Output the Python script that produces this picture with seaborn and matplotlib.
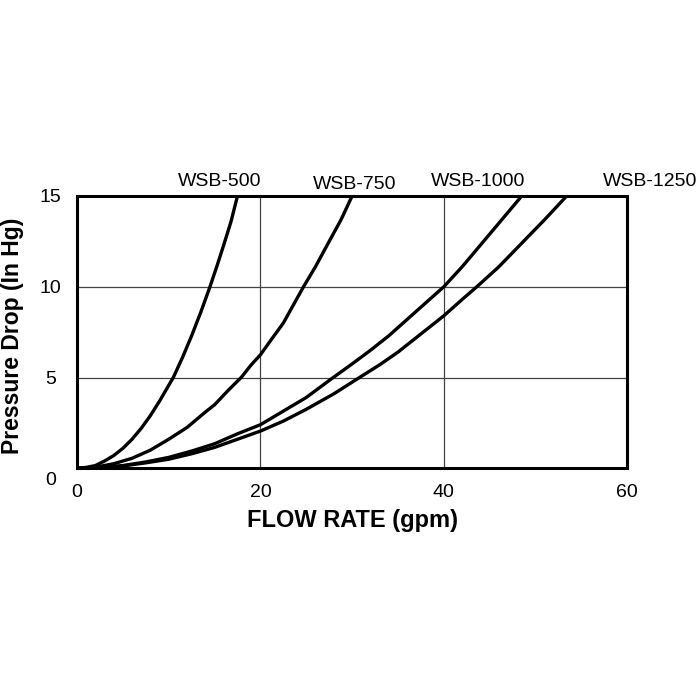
import matplotlib
matplotlib.use("Agg")
import matplotlib.pyplot as plt
import matplotlib.transforms as mtransforms
import pandas as pd
import seaborn as sns

# values (flow gpm -> pressure drop in Hg)
wsb500_flow = [0, 1, 2, 3, 4, 5, 6, 7, 8, 9, 10.5, 11.5, 12.5, 13.5, 14.5,
               15.3, 16, 16.8, 17.5]
wsb500_drop = [0, 0.05, 0.15, 0.4, 0.7, 1.1, 1.6, 2.2, 2.9, 3.7, 5, 6.1, 7.3,
               8.6, 10, 11.2, 12.3, 13.6, 15]

wsb750_flow = [0, 2, 4, 6, 8, 10, 12, 14, 15, 16.5, 17.9, 19, 20, 21.2, 22.5,
               23.6, 24.7, 26, 27.5, 28.8, 30]
wsb750_drop = [0, 0.06, 0.25, 0.55, 1.0, 1.6, 2.25, 3.1, 3.5, 4.3, 5, 5.7,
               6.25, 7.1, 8, 9, 10, 11.1, 12.5, 13.7, 15]

wsb1000_flow = [0, 2.5, 5, 7.5, 10, 12.5, 15, 17.5, 20, 22.5, 25, 27.8, 30,
                32, 34, 36, 38, 40, 42, 44, 46, 48.5]
wsb1000_drop = [0, 0.04, 0.15, 0.35, 0.6, 0.95, 1.35, 1.9, 2.4, 3.15, 3.9, 4.95,
                5.75, 6.5, 7.3, 8.2, 9.1, 10, 11.1, 12.3, 13.5, 15]

wsb1250_flow = [0, 2.5, 5, 7.5, 10, 12.5, 15, 17.5, 20, 22.5, 25, 28, 30.8,
                33, 35, 37.5, 40, 42, 43.6, 46, 48.5, 51, 53.4]
wsb1250_drop = [0, 0.03, 0.13, 0.3, 0.5, 0.8, 1.15, 1.6, 2.05, 2.6, 3.25, 4.1,
                5, 5.7, 6.4, 7.4, 8.4, 9.3, 10, 11.1, 12.4, 13.7, 15]

models = ["WSB-500", "WSB-750", "WSB-1000", "WSB-1250"]
label_x = [15.6, 30.3, 43.7, 62.5]
label_y = [15.8, 15.65, 15.8, 15.8]

x_ticks = [0, 20, 40, 60]
y_ticks = [0, 5, 10, 15]

frames = []
for name, fx, fy in zip(models,
                        [wsb500_flow, wsb750_flow, wsb1000_flow, wsb1250_flow],
                        [wsb500_drop, wsb750_drop, wsb1000_drop, wsb1250_drop]):
    frames.append(pd.DataFrame({"flow": fx, "drop": fy, "model": name}))
df = pd.concat(frames, ignore_index=True)

sns.set_theme(style="white")
plt.rcParams["font.family"] = ["Liberation Sans", "DejaVu Sans"]
plt.rcParams["text.color"] = "black"
plt.rcParams["axes.labelcolor"] = "black"

fig = plt.figure(figsize=(7, 7), dpi=100)
ax = fig.add_axes([0.11, 0.331, 0.786, 0.389])

sns.lineplot(data=df, x="flow", y="drop", units="model", estimator=None,
             sort=False, color="black", linewidth=2.4, ax=ax)

ax.set_xlim(0, 60)
ax.set_ylim(0, 15)
ax.set_xticks(x_ticks)
ax.set_yticks(y_ticks)
ax.grid(True, color="#444444", linewidth=0.9)
ax.set_axisbelow(True)
for s in ax.spines.values():
    s.set_color("black")
    s.set_linewidth(2.2)

ax.tick_params(axis="x", length=0, pad=11, labelsize=14, colors="black")
ax.tick_params(axis="y", length=0, pad=19, labelsize=14, colors="black")
for lab in ax.get_yticklabels():
    lab.set_horizontalalignment("center")

# the "0" on the y axis sits lower in the reference
ylabels = ax.get_yticklabels()
off = mtransforms.ScaledTranslation(0, -10 / 100, fig.dpi_scale_trans)
ylabels[0].set_transform(ylabels[0].get_transform() + off)

ax.set_xlabel("FLOW RATE (gpm)", fontsize=17, fontweight="bold", labelpad=6)
ax.set_ylabel("Pressure Drop (In Hg)", fontsize=16.5, fontweight="bold")
ax.yaxis.set_label_coords(-0.097, 0.485)

for name, lx, ly in zip(models, label_x, label_y):
    ax.text(lx, ly, name, ha="center", va="center", fontsize=14,
            clip_on=False, color="black")

fig.savefig("out.png", dpi=100, facecolor="white")
